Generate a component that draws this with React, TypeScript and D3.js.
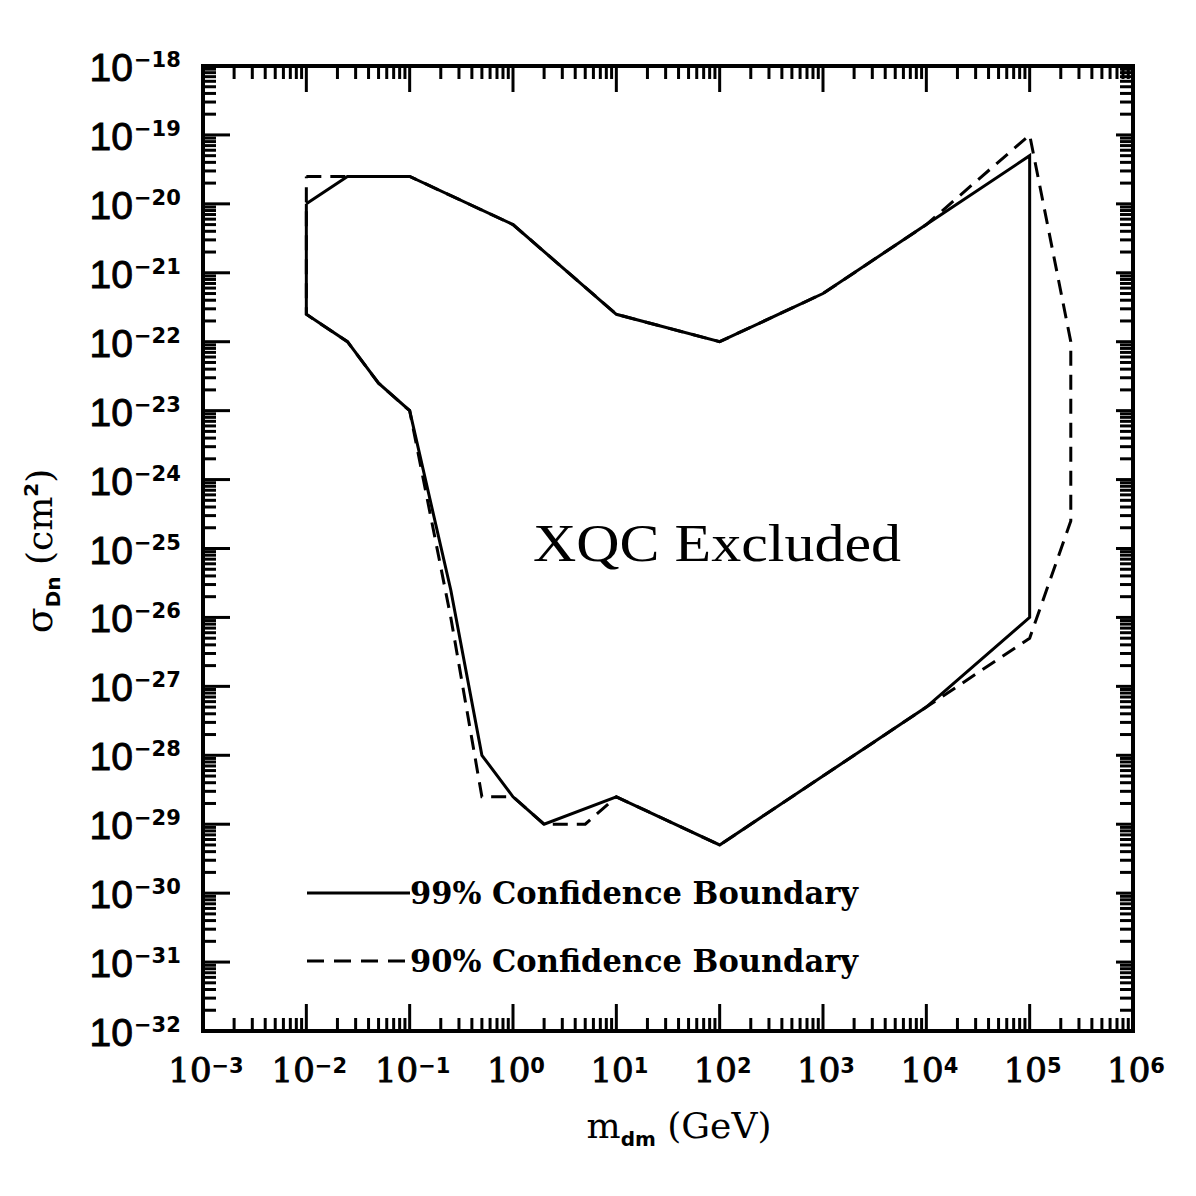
import * as d3 from 'd3';

const X_DOMAIN: [number, number] = [1e-3, 1e6];
const Y_DOMAIN: [number, number] = [1e-32, 1e-18];

// decade exponents for labelled ticks
const xExponents = d3.range(-3, 7);
const yExponents = d3.range(-32, -17);

// 99% confidence boundary (closed contour), mass in GeV, cross-section in cm^2
const solidMass = [0.01, 0.025, 0.1, 1, 10, 100, 1e3, 1e4, 1e5, 1e5, 1e4, 1e3, 100, 10, 2, 1, 0.5, 0.25, 0.1, 0.05, 0.025, 0.01, 0.01];
const solidSigma = [1e-20, 2.5e-20, 2.5e-20, 5e-21, 2.5e-22, 1e-22, 5e-22, 5e-21, 5e-20, 1e-26, 5e-28, 5e-29, 5e-30, 2.5e-29, 1e-29, 2.5e-29, 1e-28, 2.5e-26, 1e-23, 2.5e-23, 1e-22, 2.5e-22, 1e-20];

// 90% confidence boundary
const dashedMass = [0.01, 0.1, 1, 10, 100, 1e3, 1e4, 1e5, 2.5e5, 2.5e5, 1e5, 1e4, 1e3, 100, 10, 5, 2, 1, 0.5, 0.25, 0.1, 0.05, 0.025, 0.01, 0.01];
const dashedSigma = [2.5e-20, 2.5e-20, 5e-21, 2.5e-22, 1e-22, 5e-22, 5e-21, 1e-19, 1e-22, 2.5e-25, 5e-27, 5e-28, 5e-29, 5e-30, 2.5e-29, 1e-29, 1e-29, 2.5e-29, 2.5e-29, 1e-26, 1e-23, 2.5e-23, 1e-22, 2.5e-22, 2.5e-20];

const legendLabels = ['99% Confidence Boundary', '90% Confidence Boundary'];

const W = 1196;
const H = 1196;
const margin = { top: 66, right: 63, bottom: 165, left: 203 };

export default function App() {
  const x = d3.scaleLog().domain(X_DOMAIN).range([margin.left, W - margin.right]);
  const y = d3.scaleLog().domain(Y_DOMAIN).range([H - margin.bottom, margin.top]);

  const [x0, x1] = x.range();
  const [y0, y1] = y.range(); // y0 bottom, y1 top

  // minor ticks: 2..9 within each decade
  const minors = (exps: number[]) =>
    exps.slice(0, -1).flatMap(e => d3.range(2, 10).map(m => m * Math.pow(10, e)));
  const xMinor = minors(xExponents);
  const yMinor = minors(yExponents);

  const supText = (e: number) => (e < 0 ? '\u2212' + Math.abs(e) : String(e));

  const line = d3
    .line<[number, number]>()
    .x(d => x(d[0]))
    .y(d => y(d[1]));

  const solidPts = d3.zip(solidMass, solidSigma) as [number, number][];
  const dashedPts = d3.zip(dashedMass, dashedSigma) as [number, number][];

  const tk = { stroke: '#000', strokeWidth: 3 };
  const heavy = { stroke: '#000', strokeWidth: 0.9 };

  return (
    <svg width={W} height={H} style={{ position: 'absolute', left: 0, top: 0, background: '#fff' }}>
      <rect x={0} y={0} width={W} height={H} fill="#fff" />

      {/* x ticks */}
      {xMinor.map((v, i) => (
        <g key={'xm' + i}>
          <line x1={x(v)} x2={x(v)} y1={y0} y2={y0 - 13} {...tk} />
          <line x1={x(v)} x2={x(v)} y1={y1} y2={y1 + 13} {...tk} />
        </g>
      ))}
      {xExponents.map(e => {
        const px = x(Math.pow(10, e));
        return (
          <g key={'xM' + e}>
            <line x1={px} x2={px} y1={y0} y2={y0 - 27} {...tk} />
            <line x1={px} x2={px} y1={y1} y2={y1 + 26} {...tk} />
          </g>
        );
      })}

      {/* y ticks */}
      {yMinor.map((v, i) => (
        <g key={'ym' + i}>
          <line x1={x0} x2={x0 + 13} y1={y(v)} y2={y(v)} {...tk} />
          <line x1={x1} x2={x1 - 13} y1={y(v)} y2={y(v)} {...tk} />
        </g>
      ))}
      {yExponents.map(e => {
        const py = y(Math.pow(10, e));
        return (
          <g key={'yM' + e}>
            <line x1={x0} x2={x0 + 27} y1={py} y2={py} {...tk} />
            <line x1={x1} x2={x1 - 17} y1={py} y2={py} {...tk} />
          </g>
        );
      })}

      {/* frame */}
      <rect x={x0} y={y1} width={x1 - x0} height={y0 - y1} fill="none" stroke="#000" strokeWidth={4} />

      {/* x tick labels */}
      {xExponents.map(e => (
        <text key={'xl' + e} x={x(Math.pow(10, e)) + 3} y={1082} textAnchor="middle" fill="#000">
          <tspan fontFamily="DejaVu Serif" fontSize={34} {...heavy}>10</tspan>
          <tspan fontFamily="DejaVu Sans" fontWeight="bold" fontSize={21} dy={-9}>
            {supText(e)}
          </tspan>
        </text>
      ))}

      {/* y tick labels */}
      {yExponents.map(e => (
        <g key={'yl' + e}>
          <text x={133} y={y(Math.pow(10, e)) + 15} textAnchor="end" fontFamily="Liberation Sans" fontSize={39} fill="#000" {...heavy}>
            10
          </text>
          <text x={134} y={y(Math.pow(10, e)) + 1} fontFamily="DejaVu Sans" fontWeight="bold" fontSize={21} fill="#000">
            {supText(e)}
          </text>
        </g>
      ))}

      {/* contours */}
      <path d={line(solidPts) ?? ''} fill="none" stroke="#000" strokeWidth={3} />
      <path d={line(dashedPts) ?? ''} fill="none" stroke="#000" strokeWidth={3} strokeDasharray="15,9" />

      {/* annotation */}
      <text
        x={533}
        y={561}
        fontFamily="Liberation Serif"
        fontSize={53}
        textLength={368}
        lengthAdjust="spacingAndGlyphs"
        fill="#000"
      >
        XQC Excluded
      </text>

      {/* legend */}
      {legendLabels.map((label, i) => {
        const ly = 893 + i * 68;
        return (
          <g key={'lg' + i}>
            <line
              x1={307}
              x2={410}
              y1={ly}
              y2={ly}
              stroke="#000"
              strokeWidth={3}
              strokeDasharray={i === 1 ? '17,10' : undefined}
            />
            <text
              x={410}
              y={ly + 11}
              fontFamily="DejaVu Serif"
              fontWeight="bold"
              fontSize={31}
              textLength={448}
              lengthAdjust="spacingAndGlyphs"
              fill="#000"
            >
              {label}
            </text>
          </g>
        );
      })}

      {/* x axis title */}
      <text x={679} y={1138} textAnchor="middle" fill="#000">
        <tspan fontFamily="DejaVu Serif" fontSize={36}>m</tspan>
        <tspan fontFamily="DejaVu Sans" fontWeight="bold" fontSize={20} dy={8}>dm</tspan>
        <tspan fontFamily="DejaVu Serif" fontSize={36} dy={-8}> (GeV)</tspan>
      </text>

      {/* y axis title */}
      <text transform="translate(52,551) rotate(-90)" textAnchor="middle" fill="#000">
        <tspan fontFamily="DejaVu Serif" fontSize={38}>σ</tspan>
        <tspan fontFamily="DejaVu Sans" fontWeight="bold" fontSize={20} dy={8}>Dn</tspan>
        <tspan fontFamily="DejaVu Serif" fontSize={36} dy={-8}> (cm</tspan>
        <tspan fontFamily="DejaVu Sans" fontWeight="bold" fontSize={20} dy={-14}>2</tspan>
        <tspan fontFamily="DejaVu Serif" fontSize={36} dy={14}>)</tspan>
      </text>
    </svg>
  );
}
